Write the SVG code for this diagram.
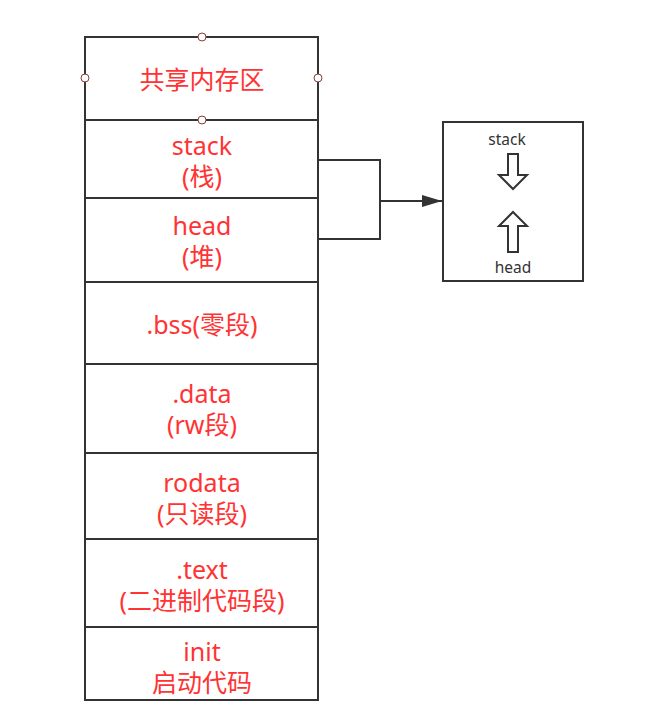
<svg xmlns="http://www.w3.org/2000/svg" width="657" height="707" viewBox="0 0 657 707">
<style>
.box{fill:#fff;stroke:#333;stroke-width:2}
.lbl{font-family:"Noto Sans","Noto Sans CJK SC",sans-serif;font-size:25px;fill:#ff3333;text-anchor:middle;dominant-baseline:central}
.sm{font-family:"Noto Sans","Noto Sans CJK SC",sans-serif;font-size:15.5px;fill:#333;text-anchor:middle;dominant-baseline:central}
.pt{fill:#fff;stroke:#8b3a3a;stroke-width:1}
.ln{fill:none;stroke:#333;stroke-width:2}
.ar{fill:#fff;stroke:#333;stroke-width:2;stroke-linejoin:miter}
</style>
<defs>
<marker id="ah" viewBox="0 0 20 12" refX="20" refY="6" markerWidth="20" markerHeight="12" markerUnits="userSpaceOnUse" orient="auto">
<path d="M0,0 L20,6 L0,12 Z" fill="#333"/>
</marker>
</defs>
<rect width="657" height="707" fill="#fff"/>
<g id="shared">
<rect class="box" x="85" y="37" width="233" height="83"/>
<text class="lbl" x="202" y="79">共享内存区</text>
</g>
<g id="stack">
<rect class="box" x="85" y="120" width="233" height="78"/>
<text class="lbl" x="202" y="145">stack</text>
<text class="lbl" x="202" y="176">(栈)</text>
</g>
<g id="head">
<rect class="box" x="85" y="198" width="233" height="84"/>
<text class="lbl" x="202" y="225">head</text>
<text class="lbl" x="202" y="256">(堆)</text>
</g>
<g id="bss">
<rect class="box" x="85" y="282" width="233" height="82"/>
<text class="lbl" x="202" y="324">.bss(零段)</text>
</g>
<g id="data">
<rect class="box" x="85" y="364" width="233" height="89"/>
<text class="lbl" x="202" y="393">.data</text>
<text class="lbl" x="202" y="424">(rw段)</text>
</g>
<g id="rodata">
<rect class="box" x="85" y="453" width="233" height="86"/>
<text class="lbl" x="202" y="482">rodata</text>
<text class="lbl" x="202" y="513">(只读段)</text>
</g>
<g id="text">
<rect class="box" x="85" y="539" width="233" height="88"/>
<text class="lbl" x="202" y="569">.text</text>
<text class="lbl" x="202" y="600">(二进制代码段)</text>
</g>
<g id="init">
<rect class="box" x="85" y="627" width="233" height="73"/>
<text class="lbl" x="202" y="651">init</text>
<text class="lbl" x="202" y="682">启动代码</text>
</g>
<g id="handles">
<circle class="pt" cx="202" cy="37" r="4"/>
<circle class="pt" cx="85" cy="78" r="4"/>
<circle class="pt" cx="318" cy="78" r="4"/>
<circle class="pt" cx="202" cy="120" r="4"/>
</g>
<g id="growth">
<rect class="box" x="443" y="122" width="140" height="159"/>
<text class="sm" x="507" y="139">stack</text>
<path class="ar" d="M508,154 L518,154 L518,175 L527,175 L513,189 L499,175 L508,175 Z"/>
<path class="ar" d="M513,212 L527,226 L518,226 L518,252 L508,252 L508,226 L499,226 Z"/>
<text class="sm" x="513" y="267">head</text>
</g>
<g id="connectors">
<path class="ln" d="M318,160 L380,160 L380,239 L318,239"/>
<path class="ln" d="M380,201 L442,201" marker-end="url(#ah)"/>
</g>
</svg>
